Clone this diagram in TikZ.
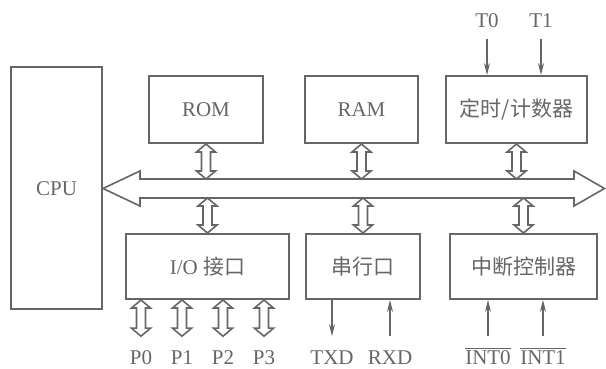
\documentclass[tikz,border=0pt]{standalone}
\usepackage{fontspec}
\setmainfont{Liberation Serif}
\newfontfamily\cjk{Noto Sans CJK SC}
\usetikzlibrary{arrows.meta,calc}
\definecolor{ink}{gray}{0.4}

\begin{document}
\begin{tikzpicture}[x=0.5pt, y=0.5pt, font=\fontsize{10.5pt}{12pt}\selectfont, color=ink, line width=0.8pt]
\tikzset{bloc/.style={draw, line width=1pt, minimum height=33.5pt, inner sep=0pt},
  bas/.style={bloc, minimum height=32.5pt},
  sig/.style={line width=0.6pt, -{Stealth[length=6pt, width=3pt]}},
  lbl/.style={anchor=base, inner xsep=0pt, inner ysep=7pt, text height=7pt, text depth=0pt},
  tlbl/.style={lbl, inner ysep=5pt},
  large/.style={to path={let \p1=(\tikztostart), \p2=(\tikztotarget) in
    (\x1,\y1) -- (\x1+4.75pt,\y1-4pt) -- (\x1+2.25pt,\y1-4pt) -- (\x1+2.25pt,\y2+4pt)
    -- (\x1+4.75pt,\y2+4pt) -- (\x1,\y2) -- (\x1-4.75pt,\y2+4pt) -- (\x1-2.25pt,\y2+4pt)
    -- (\x1-2.25pt,\y1-4pt) -- (\x1-4.75pt,\y1-4pt) -- cycle}}}
\useasboundingbox (0,0) rectangle (606,369);
% blocs
\node[bloc, minimum width=45.5pt, minimum height=121pt] (CPU) at (56.5,180.5) {CPU};
\node[bloc, minimum width=57pt] (ROM) at (206,259.5) {ROM};
\node[bloc, minimum width=56.5pt] (RAM) at (361.5,259.5) {RAM};
\node[bloc, minimum width=70.5pt] (TMR) at (516.5,259.5) {\cjk 定时/计数器};
\node[bas, minimum width=81.5pt] (IO) at (207.5,102.5) {I/O {\cjk 接口}};
\node[bas, minimum width=57pt] (SER) at (363,102.5) {\cjk 串行口};
\node[bas, minimum width=73.5pt] (INTC) at (523.5,102.5) {\cjk 中断控制器};
% bus
\coordinate (bh) at (140,190);
\coordinate (bb) at (140,171);
\draw (CPU.east) -- (140,198) -- (bh) -- (574,190) -- (574,198) -- (604.5,180.5)
  -- (574,163) -- (574,171) -- (bb) -- (140,163) -- cycle;
\draw (ROM.south) to[large] (ROM.south |- bh);
\draw (RAM.south) to[large] (RAM.south |- bh);
\draw (TMR.south) to[large] (TMR.south |- bh);
\draw (IO.north |- bb) to[large] (IO.north);
\draw (SER.north |- bb) to[large] (SER.north);
\draw (INTC.north |- bb) to[large] (INTC.north);
% ports
\foreach \i/\x in {0/141, 1/182, 2/223, 3/264} {
  \node[lbl] (P\i) at (\x,4) {P\i};
  \draw (IO.south -| P\i) to[large] (P\i.north);
}
\node[lbl] (TXD) at (332,4) {TXD};
\node[lbl] (RXD) at (390,4) {RXD};
\node[lbl] (INT0) at (488,4) {$\overline{\mbox{INT0}}$};
\node[lbl] (INT1) at (543,4) {$\overline{\mbox{INT1}}$};
\node[tlbl] (T0) at (487,341) {T0};
\node[tlbl] (T1) at (541,341) {T1};
\draw[sig] (SER.south -| TXD) -- (TXD.north);
\draw[sig] (RXD.north) -- (SER.south -| RXD);
\draw[sig] (INT0.north) -- (INTC.south -| INT0);
\draw[sig] (INT1.north) -- (INTC.south -| INT1);
\draw[sig] (T0.south) -- (TMR.north -| T0);
\draw[sig] (T1.south) -- (TMR.north -| T1);
\end{tikzpicture}
\end{document}
